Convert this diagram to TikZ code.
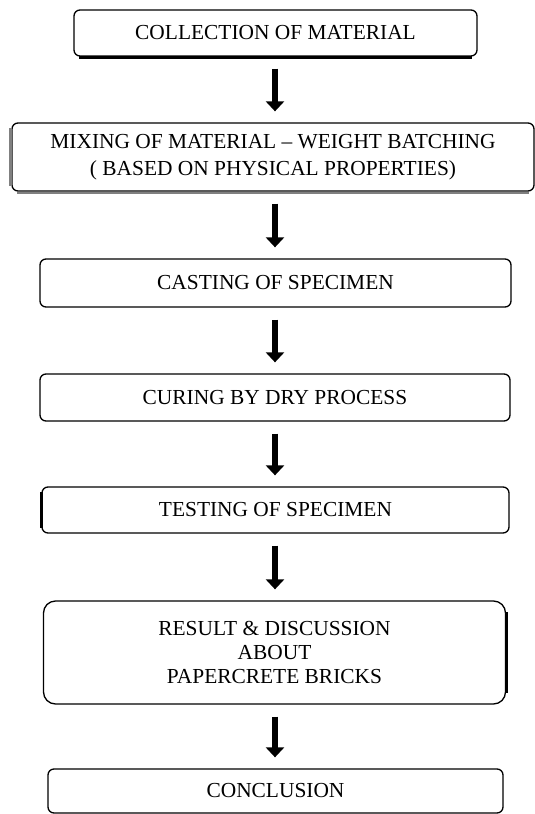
\documentclass[tikz,border=0pt]{standalone}
\usepackage{fontspec}
\setmainfont{Liberation Serif}
\usetikzlibrary{arrows.meta}
\tikzset{
  stage/.style={draw, line width=1.3pt, rounded corners=6pt, align=center, inner sep=0pt},
  flow/.style={-{Triangle[length=10pt,width=18pt]}, line width=6pt, shorten <=12pt, shorten >=11pt}
}
\begin{document}
\begin{tikzpicture}[x=1pt, y=-1pt, font=\fontsize{21.4}{27}\selectfont]
    \useasboundingbox (0,0) rectangle (535,814);
    % Draw the stages
    \node[stage, minimum width=403pt, minimum height=46pt] (collect) at (275.5,33) {COLLECTION OF MATERIAL};
    \node[stage, minimum width=522pt, minimum height=68pt] (mix) at (273,157) {MIXING OF MATERIAL -- WEIGHT BATCHING\\( BASED ON PHYSICAL PROPERTIES)};
    \node[stage, minimum width=471pt, minimum height=48pt] (cast) at (275.5,283) {CASTING OF SPECIMEN};
    \node[stage, minimum width=470pt, minimum height=47pt] (cure) at (275,397.5) {CURING BY DRY PROCESS};
    \node[stage, minimum width=467pt, minimum height=46pt] (test) at (275.5,510) {TESTING OF SPECIMEN};
    \node[stage, rounded corners=12pt, minimum width=462pt, minimum height=103pt, font=\fontsize{21.4}{24}\selectfont] (result) at (274.5,652.5) {RESULT \& DISCUSSION\\ABOUT\\PAPERCRETE BRICKS};
    \node[stage, minimum width=455pt, minimum height=44pt] (concl) at (275.5,791) {CONCLUSION};

    % Draw shadow edges
    \draw[line width=2.5pt] ([xshift=6pt,yshift=-1pt]collect.south west) -- ([xshift=-6pt,yshift=-1pt]collect.south east);
    \draw[line width=2.5pt, gray] ([xshift=-1pt,yshift=6pt]mix.south west) -- ([xshift=-1pt,yshift=-6pt]mix.north west);
    \draw[line width=2.5pt, gray] ([xshift=6pt,yshift=-1.5pt]mix.south west) -- ([xshift=-6pt,yshift=-1.5pt]mix.south east);
    \draw[line width=3pt] ([xshift=0.5pt,yshift=6pt]test.south west) -- ([xshift=0.5pt,yshift=-6pt]test.north west);
    \draw[line width=3pt] ([xshift=0.5pt,yshift=12pt]result.south east) -- ([xshift=0.5pt,yshift=-12pt]result.north east);

    % Draw the arrows
    \draw[flow] (collect.south -| 275,0) -- (mix.north -| 275,0);
    \draw[flow] (mix.south -| 275,0) -- (cast.north -| 275,0);
    \draw[flow] (cast.south -| 275,0) -- (cure.north -| 275,0);
    \draw[flow] (cure.south -| 275,0) -- (test.north -| 275,0);
    \draw[flow] (test.south -| 275,0) -- (result.north -| 275,0);
    \draw[flow] (result.south -| 275,0) -- (concl.north -| 275,0);
\end{tikzpicture}
\end{document}
